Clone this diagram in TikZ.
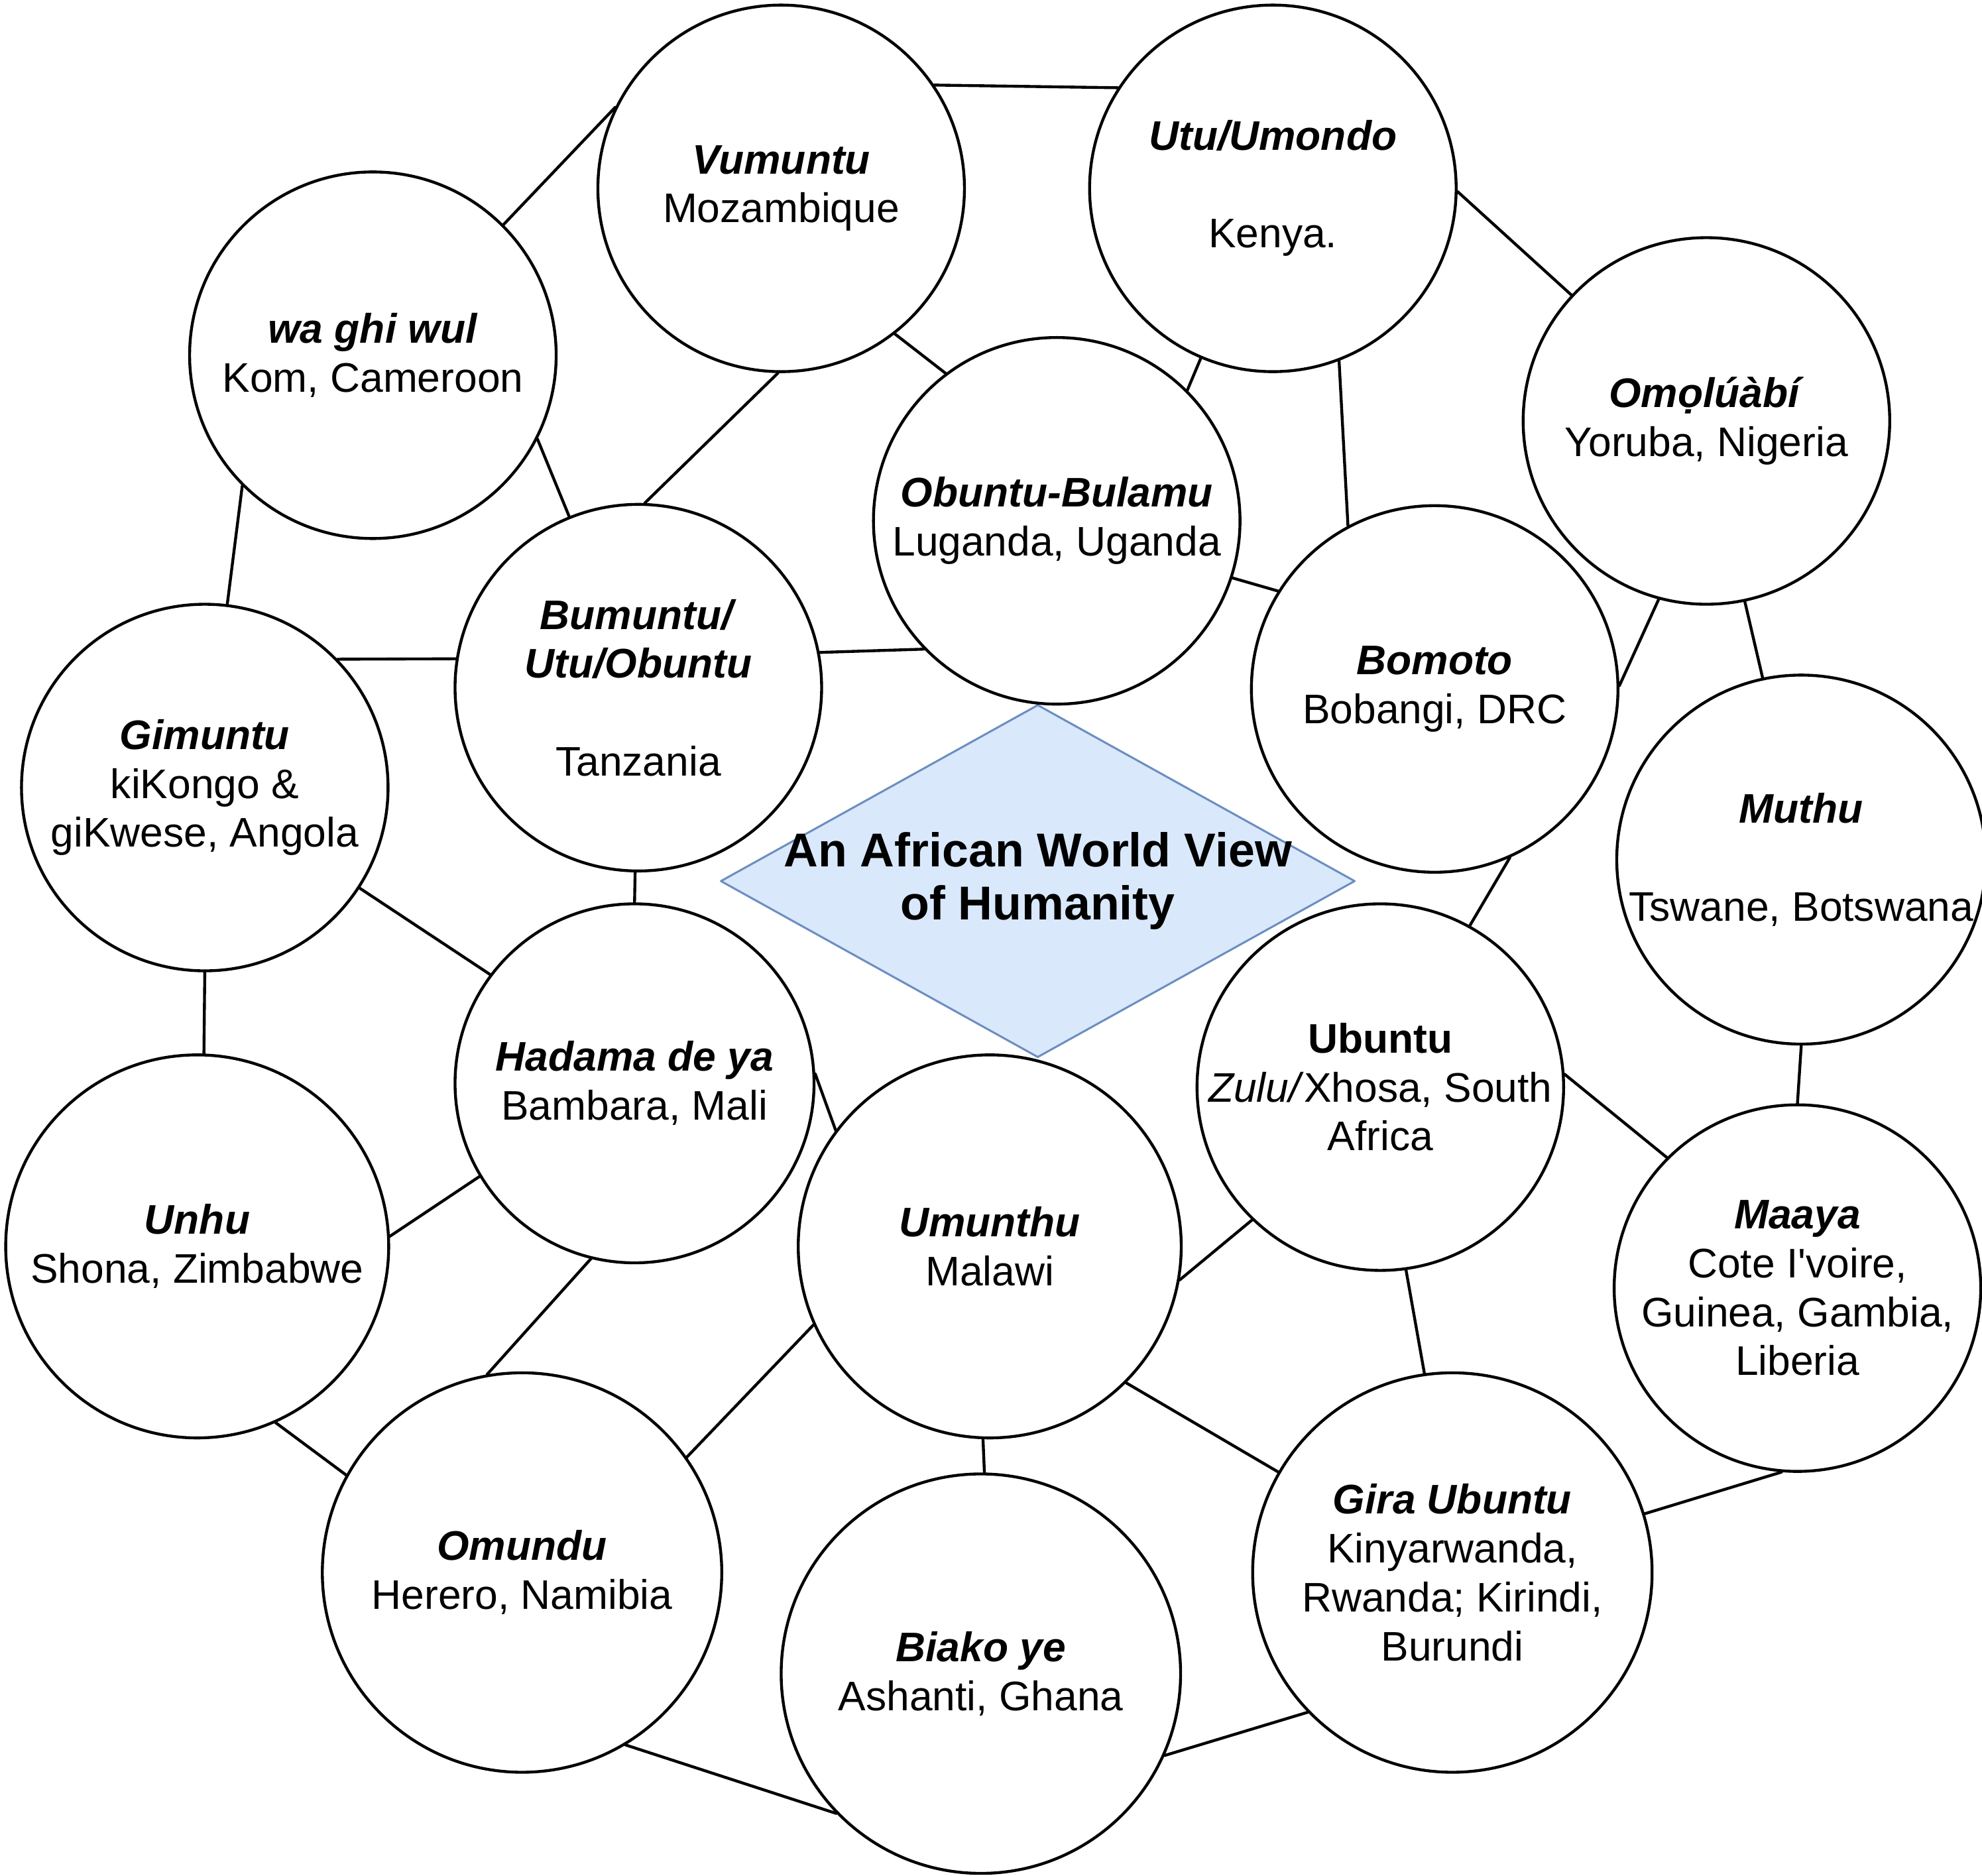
\documentclass[tikz,border=0pt]{standalone}
\usepackage{fontspec}
\setmainfont{Liberation Sans}
\usetikzlibrary{shapes.geometric}
\definecolor{hubfill}{HTML}{DAE8FC}
\definecolor{hubline}{HTML}{6C8EBF}
\newcommand{\nm}[1]{\textbf{\textit{#1}}}

\begin{document}
\begin{tikzpicture}[x=0.1mm, y=-0.1mm, line join=round, line cap=round]
   % Styles
   \tikzset{
    v/.style={circle, draw=black, line width=0.65pt, fill=white, minimum size=29mm,
      inner sep=0pt, align=center, font=\fontsize{9.3}{11}\selectfont},
    vbig/.style={v, minimum size=31.6mm},
    vmid/.style={v, minimum size=30.3mm},
    vsmall/.style={v, minimum size=28.4mm},
    hub/.style={diamond, draw=hubline, fill=hubfill, line width=0.45pt,
      minimum width=50.2mm, minimum height=27.9mm, inner sep=0pt},
    hubtext/.style={align=center, font=\fontsize{10.7}{12}\selectfont\bfseries},
    edge/.style={line width=0.65pt, black}
   }
  \path[use as bounding box, fill=white] (0,0) rectangle (1568,1484);
  % Nodes
  \node[hub, label={[hubtext]center:{An African World View\\of Humanity}}] (hub) at (821,697) {};
  \node[v]      (waghiwul) at (295,281)  {\nm{wa ghi wul}\\Kom, Cameroon};
  \node[v]      (vumuntu)  at (618,149)  {\nm{Vumuntu}\\Mozambique};
  \node[v]      (utu)      at (1007,149) {\nm{Utu/Umondo}\\[11pt]Kenya.};
  \node[v]      (omoluabi) at (1350,333) {\nm{Omọlúàbí}\\Yoruba, Nigeria};
  \node[v]      (obuntu)   at (836,412)  {\nm{Obuntu-Bulamu}\\Luganda, Uganda};
  \node[v]      (bumuntu)  at (505,544)  {\nm{Bumuntu/}\\\nm{Utu/Obuntu}\\[11pt]Tanzania};
  \node[v]      (bomoto)   at (1135,545) {\nm{Bomoto}\\Bobangi, DRC};
  \node[v]      (gimuntu)  at (162,623)  {\nm{Gimuntu}\\kiKongo \&\\giKwese, Angola};
  \node[vsmall] (muthu)    at (1425,680) {\nm{Muthu}\\[11pt]Tswane, Botswana};
  \node[vsmall] (hadama)   at (502,857)  {\nm{Hadama de ya}\\Bambara, Mali};
  \node[v]      (ubuntu)   at (1092,860) {\textbf{Ubuntu}\\\textit{Zulu/}Xhosa, South\\Africa};
  \node[vmid]   (unhu)     at (156,986)  {\nm{Unhu}\\Shona, Zimbabwe};
  \node[vmid]   (umunthu)  at (783,986)  {\nm{Umunthu}\\Malawi};
  \node[v]      (maaya)    at (1422,1019) {\nm{Maaya}\\Cote I\textquotesingle voire,\\Guinea, Gambia,\\Liberia};
  \node[vbig]   (omundu)   at (413,1244) {\nm{Omundu}\\Herero, Namibia};
  \node[vbig]   (biako)    at (776,1324) {\nm{Biako ye}\\Ashanti, Ghana};
  \node[vbig]   (gira)     at (1149,1244) {\nm{Gira Ubuntu}\\Kinyarwanda,\\Rwanda; Kirindi,\\Burundi};
  % Edges
  \draw[edge] (waghiwul.45) -- (vumuntu.154);
  \draw[edge] (vumuntu.34) -- (utu.147);
  \draw[edge] (utu.359) -- (omoluabi.137);
  \draw[edge] (vumuntu.308) -- (obuntu.127);
  \draw[edge] (utu.247) -- (obuntu.45);
  \draw[edge] (utu.291) -- (bomoto.118);
  \draw[edge] (obuntu.342) -- (bomoto.148);
  \draw[edge] (omoluabi.255) -- (bomoto.1);
  \draw[edge] (omoluabi.282) -- (muthu.102);
  \draw[edge] (vumuntu.269) -- (bumuntu.88);
  \draw[edge] (waghiwul.333) -- (bumuntu.112);
  \draw[edge] (waghiwul.225) -- (gimuntu.83);
  \draw[edge] (gimuntu.44) -- (bumuntu.171);
  \draw[edge] (bumuntu.11) -- (obuntu.224);
  \draw[edge] (bumuntu.269) -- (hadama.90);
  \draw[edge] (gimuntu.327) -- (hadama.143);
  \draw[edge] (gimuntu.270) -- (unhu.88);
  \draw[edge] (hadama.211) -- (unhu.3);
  \draw[edge] (hadama.3) -- (umunthu.143);
  \draw[edge] (hadama.256) -- (omundu.100);
  \draw[edge] (unhu.294) -- (omundu.151);
  \draw[edge] (umunthu.204) -- (omundu.35);
  \draw[edge] (umunthu.268) -- (biako.89);
  \draw[edge] (omundu.301) -- (biako.224);
  \draw[edge] (bomoto.294) -- (ubuntu.61);
  \draw[edge] (muthu.270) -- (maaya.90);
  \draw[edge] (ubuntu.4) -- (maaya.135);
  \draw[edge] (ubuntu.226) -- (umunthu.350);
  \draw[edge] (ubuntu.278) -- (gira.98);
  \draw[edge] (umunthu.315) -- (gira.150);
  \draw[edge] (maaya.265) -- (gira.17);
  \draw[edge] (biako.336) -- (gira.224);
\end{tikzpicture}
\end{document}
